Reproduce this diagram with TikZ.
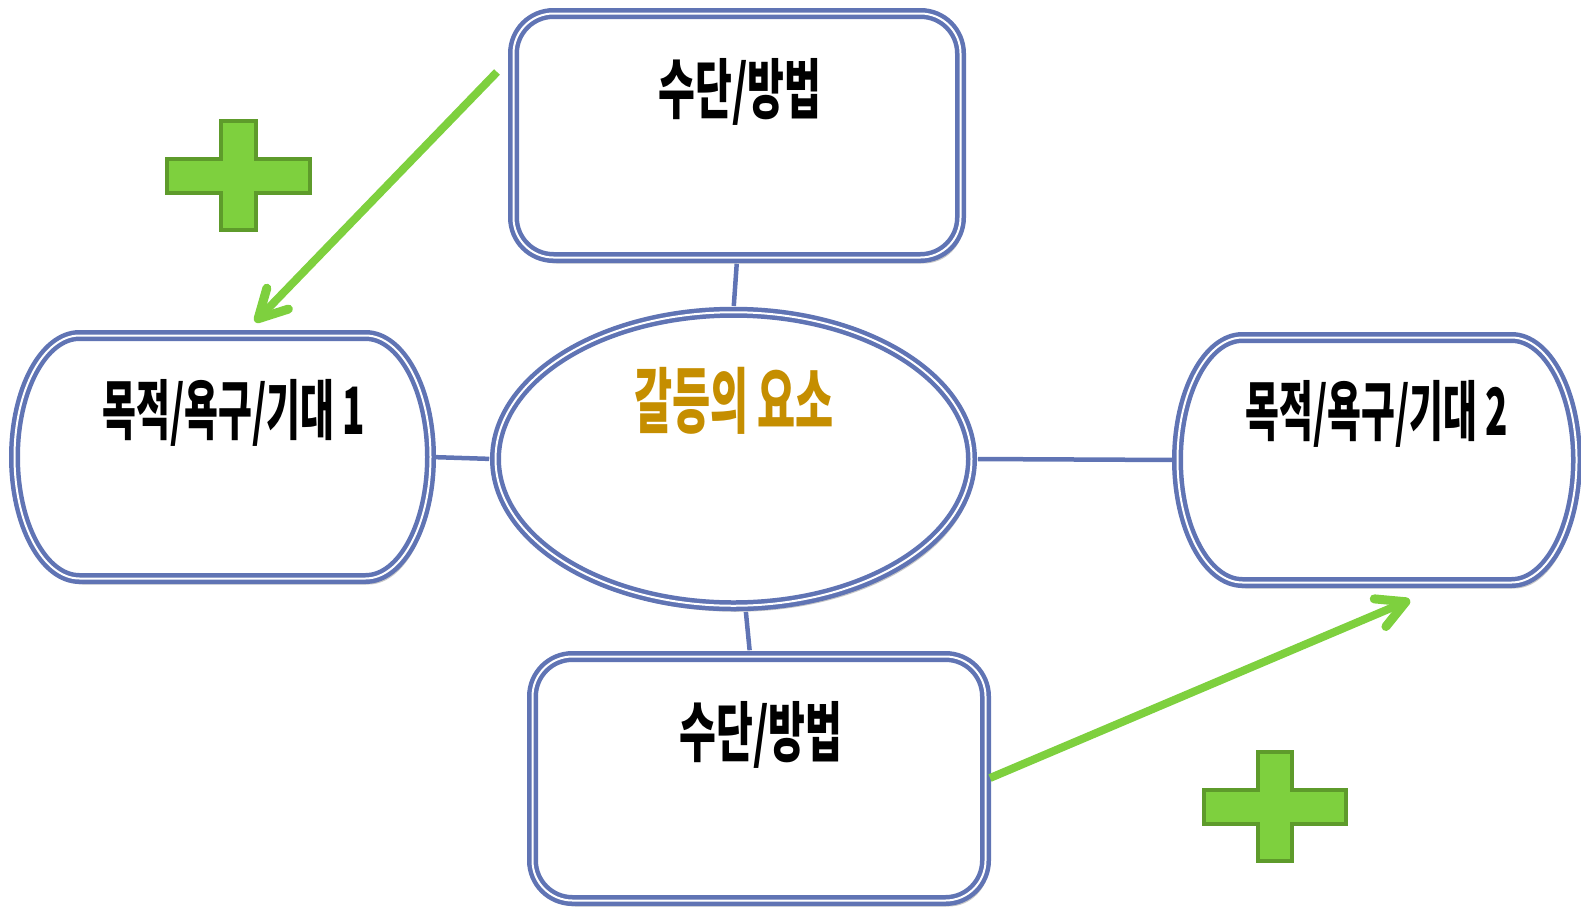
\documentclass[tikz,border=0pt]{standalone}
\usepackage{fontspec}
\newfontfamily\kr{Noto Sans CJK KR}
\usetikzlibrary{shapes.geometric, arrows.meta, shadows}
\definecolor{bord}{RGB}{96,116,180}
\definecolor{grn}{RGB}{126,208,62}
\definecolor{grnd}{RGB}{94,155,43}
\definecolor{gold}{RGB}{197,142,0}
\begin{document}
\begin{tikzpicture}[x=1pt,y=-1pt,
  bx/.style={draw=bord, line width=4.5pt, double=white, double distance=2pt, fill=white,
    drop shadow={shadow xshift=3pt, shadow yshift=-6pt, opacity=0.4, fill=black!55}},
  lbl/.style={inner sep=0pt, font=\kr\bfseries\fontsize{46}{50}\selectfont},
  con/.style={draw=bord, line width=4.5pt, shorten <=4pt, shorten >=4pt},
  arr/.style={draw=grn, line width=8pt, -{Straight Barb[length=28pt,width=30pt,line width=9pt,round]}},
  plus/.style={fill=grn, draw=grnd, line width=4pt, line join=miter}]
\useasboundingbox (0,0) rectangle (1581,913);

% top box
\node[bx, rounded corners=40pt, minimum width=447pt, minimum height=244pt, inner sep=0pt] (T) at (737,135.5) {};
% bottom box
\node[bx, rounded corners=40pt, minimum width=453pt, minimum height=244pt, inner sep=0pt] (B) at (759,778.5) {};
% ellipse
\node[bx, ellipse, minimum width=476pt, minimum height=293.5pt, inner sep=0pt] (E) at (733.5,459) {};
% left box
\draw[bx] (79.5,335.5) -- (365.5,335.5) arc[start angle=-90, end angle=90, x radius=65, y radius=121.5]
  -- (79.5,578.5) arc[start angle=90, end angle=270, x radius=65, y radius=121.5] -- cycle;
\node[minimum width=416pt, minimum height=243pt, inner sep=0pt] (L) at (222.5,457) {};
% right box
\draw[bx] (1242.5,337.5) -- (1511.5,337.5) arc[start angle=-90, end angle=90, x radius=65, y radius=122.5]
  -- (1242.5,582.5) arc[start angle=90, end angle=270, x radius=65, y radius=122.5] -- cycle;
\node[minimum width=399pt, minimum height=245pt, inner sep=0pt] (R) at (1377,460) {};

% connectors
\draw[con] (T.south) -- (E.north);
\draw[con] (L.east) -- (E.west);
\draw[con] (E.east) -- (R.west);
\draw[con] ([xshift=12pt]E.south) -- ([xshift=-9pt]B.north);

% texts
\node[lbl] (tT) at (740,92) {\scalebox{0.87}[1.42]{수단/방법}};
\node[lbl] (tB) at (761,735) {\scalebox{0.87}[1.42]{수단/방법}};
\node[lbl, text=gold] (tE) at (734,401) {\scalebox{0.9}[1.55]{갈등의 요소}};
\node[lbl] (tL) at (234,413) {\scalebox{0.8}[1.42]{목적/욕구/기대 1}};
\node[lbl] (tR) at (1377,414) {\scalebox{0.8}[1.42]{목적/욕구/기대 2}};

% arrows
\coordinate (a1s) at (497,72);
\coordinate (a1e) at (255,322);
\draw[arr] (a1s) -- (a1e);
\coordinate (a2s) at (990,778);
\coordinate (a2e) at (1410,600);
\draw[arr] (a2s) -- (a2e);

% plus signs
\draw[plus] (221,121) -- (256,121) -- (256,159) -- (310,159) -- (310,193) -- (256,193) -- (256,230) -- (221,230) -- (221,193) -- (167,193) -- (167,159) -- (221,159) -- cycle;
\draw[plus] (1258,752) -- (1292,752) -- (1292,790) -- (1346,790) -- (1346,824) -- (1292,824) -- (1292,861) -- (1258,861) -- (1258,824) -- (1204,824) -- (1204,790) -- (1258,790) -- cycle;
\end{tikzpicture}
\end{document}
